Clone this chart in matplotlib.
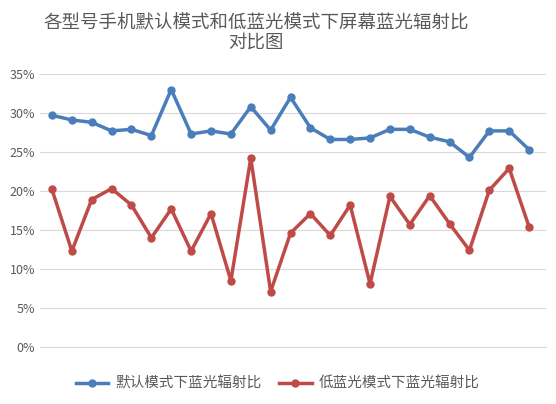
import matplotlib
matplotlib.use("Agg")
import matplotlib.pyplot as plt
from matplotlib.ticker import PercentFormatter

plt.rcParams['font.family'] = ['Noto Sans CJK SC', 'DejaVu Sans']

default_rate = [29.7, 29.1, 28.8, 27.7, 27.9, 27.1, 33.0, 27.3, 27.7, 27.3, 30.8, 27.8, 32.0,
                28.1, 26.6, 26.6, 26.8, 27.9, 27.9, 26.9, 26.3, 24.3, 27.7, 27.7, 25.3]
low_blue_rate = [20.2, 12.3, 18.9, 20.3, 18.2, 14.0, 17.7, 12.3, 17.1, 8.5, 24.2, 7.1, 14.6,
                 17.1, 14.3, 18.2, 8.1, 19.3, 15.7, 19.4, 15.8, 12.4, 20.1, 22.9, 15.4]
labels = ['默认模式下蓝光辐射比', '低蓝光模式下蓝光辐射比']
title = '各型号手机默认模式和低蓝光模式下屏幕蓝光辐射比\n对比图'
yticks = [0, 5, 10, 15, 20, 25, 30, 35]

fig = plt.figure(figsize=(5.56, 4.04), dpi=100)
ax = fig.add_axes([0.072, 0.141, 0.91, 0.676])
x = range(len(default_rate))
ax.plot(x, default_rate, color='#4A7EBB', lw=2.5, marker='o', ms=5, label=labels[0])
ax.plot(x, low_blue_rate, color='#BE4B48', lw=2.5, marker='o', ms=5, label=labels[1])
ax.set_ylim(0, 35)
ax.set_yticks(yticks)
ax.yaxis.set_major_formatter(PercentFormatter(decimals=0))
ax.set_xlim(-0.6, len(default_rate) - 0.15)
ax.set_xticks([])
ax.grid(axis='y', color='#D9D9D9', lw=0.8)
ax.set_axisbelow(True)
for s in ['top', 'right', 'left']:
    ax.spines[s].set_visible(False)
ax.spines['bottom'].set_color('#D9D9D9')
ax.tick_params(axis='y', length=0, labelsize=9, labelcolor='#595959')
fig.text(0.46, 0.965, title, ha='center', va='top', fontsize=13.3, color='#595959', linespacing=1.1)
fig.legend(loc='lower center', bbox_to_anchor=(0.5, 0.0), ncol=2, frameon=False,
           fontsize=10.5, labelcolor='#595959', handlelength=2.2, columnspacing=1.2,
           handletextpad=0.5)
fig.savefig('out.png', dpi=100)
